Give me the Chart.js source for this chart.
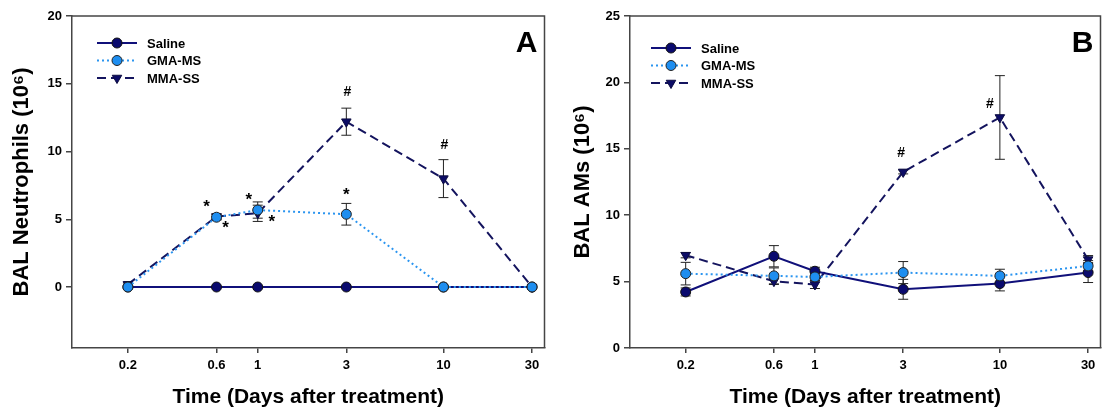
<!DOCTYPE html>
<html>
<head>
<meta charset="utf-8">
<script src="https://cdn.jsdelivr.net/npm/chart.js@4.4.1/dist/chart.umd.min.js"></script>
<style>
  html, body { margin: 0; padding: 0; background: #fff; overflow: hidden; }
  .panel { position: absolute; top: 0; height: 410px; }
  #boxA { left: 0; width: 551px; }
  #boxB { left: 551px; width: 556px; }
</style>
</head>
<body>
<div class="panel" id="boxA"><canvas id="chartA"></canvas></div>
<div class="panel" id="boxB"><canvas id="chartB"></canvas></div>
<script>
let days = [0.2, 0.6, 1, 3, 10, 30]; // time points (log axis)
let tickLabels = ['0.2', '0.6', '1', '3', '10', '30'];
let seriesNames = ['Saline', 'GMA-MS', 'MMA-SS'];

// panel A - BAL neutrophils (10^6)
let neutSaline = [0, 0, 0, 0, 0, 0];
let neutSalineErr = [0, 0, 0, 0, 0, 0];
let neutGMA = [0, 5.15, 5.68, 5.37, 0, 0];
let neutGMAErr = [0, 0.2, 0.6, 0.8, 0, 0];
let neutMMA = [0.2, 5.2, 5.44, 12.2, 8.0, 0];
let neutMMAErr = [0.1, 0.2, 0.6, 1.0, 1.4, 0];
let neutYTicks = [0, 5, 10, 15, 20];

// panel B - BAL AMs (10^6)
let amSaline = [4.22, 6.91, 5.78, 4.42, 4.85, 5.68];
let amSalineErr = [0.3, 0.8, 0.3, 0.75, 0.55, 0.75];
let amGMA = [5.6, 5.43, 5.35, 5.68, 5.43, 6.18];
let amGMAErr = [0.85, 0.6, 0.3, 0.83, 0.5, 0.4];
let amMMA = [6.99, 5.03, 4.78, 13.26, 17.36, 6.66];
let amMMAErr = [0.2, 0.25, 0.3, 0.15, 3.15, 0.3];
let amYTicks = [0, 5, 10, 15, 20, 25];

// significance marks: day, value they sit on, symbol, pixel offset
let neutMarks = [
  { x: 0.6, y: 5.2, text: '*', dx: -10, dy: -9 },
  { x: 0.6, y: 5.2, text: '*', dx: 9, dy: 12 },
  { x: 1, y: 5.68, text: '*', dx: -9, dy: -10 },
  { x: 1, y: 5.44, text: '*', dx: 14, dy: 9 },
  { x: 3, y: 5.37, text: '*', dx: 0, dy: -19 },
  { x: 3, y: 12.2, text: '#', dx: 1, dy: -30 },
  { x: 10, y: 8.0, text: '#', dx: 1, dy: -33 }
];
let amMarks = [
  { x: 3, y: 13.26, text: '#', dx: -2, dy: -19 },
  { x: 10, y: 17.36, text: '#', dx: -10, dy: -13 }
];

let FONT = '"Liberation Sans", Arial, sans-serif';
let AXIS = '#454545';

function pts(values) {
  return days.map((d, i) => ({ x: d, y: values[i] }));
}

function makeDatasets(sal, salErr, gma, gmaErr, mma, mmaErr) {
  return [
    {
      label: seriesNames[0], data: pts(sal), errors: salErr, order: 1,
      borderColor: '#10107a', borderWidth: 2,
      pointStyle: 'circle', pointRadius: 5, pointBackgroundColor: '#0a0a6e',
      pointBorderColor: '#111', pointBorderWidth: 1
    },
    {
      label: seriesNames[1], data: pts(gma), errors: gmaErr, order: 0,
      borderColor: '#2b95f0', borderWidth: 2, borderDash: [2, 3],
      pointStyle: 'circle', pointRadius: 5, pointBackgroundColor: '#1e8ef0',
      pointBorderColor: '#222', pointBorderWidth: 1
    },
    {
      label: seriesNames[2], data: pts(mma), errors: mmaErr, order: 2,
      borderColor: '#14145e', borderWidth: 2, borderDash: [9, 5],
      pointStyle: 'triangle', pointRotation: 180, pointRadius: 5.5,
      pointBackgroundColor: '#0c0c66', pointBorderColor: '#0c0c40', pointBorderWidth: 1
    }
  ];
}

let errorBars = {
  id: 'errorBars',
  beforeDatasetsDraw(chart) {
    let ctx = chart.ctx;
    let xs = chart.scales.x, ys = chart.scales.y;
    ctx.save();
    ctx.strokeStyle = '#222';
    ctx.lineWidth = 1;
    chart.data.datasets.forEach(ds => {
      ds.data.forEach((p, j) => {
        let e = ds.errors[j];
        if (!e) return;
        let x = xs.getPixelForValue(p.x);
        let y1 = ys.getPixelForValue(p.y + e);
        let y2 = ys.getPixelForValue(p.y - e);
        ctx.beginPath();
        ctx.moveTo(x, y1); ctx.lineTo(x, y2);
        ctx.moveTo(x - 5, y1); ctx.lineTo(x + 5, y1);
        ctx.moveTo(x - 5, y2); ctx.lineTo(x + 5, y2);
        ctx.stroke();
      });
    });
    ctx.restore();
  }
};

function extras(letter, marks, legX, legY) {
  return {
    id: 'extras',
    afterDatasetsDraw(chart) {
      let ctx = chart.ctx;
      let xs = chart.scales.x, ys = chart.scales.y;
      let a = chart.chartArea;
      ctx.save();
      // frame top and right
      ctx.strokeStyle = AXIS;
      ctx.lineWidth = 1.5;
      ctx.beginPath();
      ctx.moveTo(a.left, a.top); ctx.lineTo(a.right, a.top); ctx.lineTo(a.right, a.bottom);
      ctx.stroke();
      // significance marks
      ctx.fillStyle = '#000';
      ctx.textAlign = 'center';
      ctx.textBaseline = 'middle';
      marks.forEach(m => {
        ctx.font = m.text === '*' ? 'bold 17px ' + FONT : 'bold 14px ' + FONT;
        ctx.fillText(m.text, xs.getPixelForValue(m.x) + m.dx, ys.getPixelForValue(m.y) + m.dy);
      });
      // panel letter
      ctx.font = 'bold 30px ' + FONT;
      ctx.textAlign = 'right';
      ctx.fillText(letter, a.right - 7, a.top + 28);
      // legend: line + marker + name
      ctx.textAlign = 'left';
      ctx.font = 'bold 13px ' + FONT;
      chart.data.datasets.forEach((ds, i) => {
        let y = a.top + legY + i * 17.5;
        let x0 = a.left + legX;
        ctx.strokeStyle = ds.borderColor;
        ctx.lineWidth = ds.borderWidth;
        ctx.setLineDash(ds.borderDash || []);
        ctx.beginPath();
        ctx.moveTo(x0, y); ctx.lineTo(x0 + 40, y);
        ctx.stroke();
        ctx.setLineDash([]);
        ctx.fillStyle = ds.pointBackgroundColor;
        ctx.strokeStyle = ds.pointBorderColor;
        ctx.lineWidth = ds.pointBorderWidth;
        Chart.helpers.drawPoint(ctx, {
          pointStyle: ds.pointStyle, rotation: ds.pointRotation || 0,
          radius: ds.pointRadius, borderWidth: ds.pointBorderWidth
        }, x0 + 20, y);
        ctx.fillStyle = '#000';
        ctx.fillText(ds.label, x0 + 50, y + 1);
      });
      ctx.restore();
    }
  };
}

function makeChart(id, datasets, yMin, yMax, yTicks, yTitle, yWidth, yTitlePad, letter, marks, legX, legY) {
  return new Chart(document.getElementById(id), {
    type: 'line',
    data: { datasets: datasets },
    options: {
      responsive: true,
      maintainAspectRatio: false,
      animation: false,
      devicePixelRatio: 1,
      layout: { padding: { top: 16, right: 3, left: 0, bottom: 0 } },
      plugins: { legend: { display: false }, tooltip: { enabled: false } },
      scales: {
        x: {
          type: 'logarithmic', min: 0.1, max: 35,
          afterBuildTicks: s => { s.ticks = days.map(v => ({ value: v })); },
          afterFit: s => { s.height = 62; s.paddingLeft = 0; s.paddingRight = 0; },
          ticks: {
            callback: (v, i) => tickLabels[i],
            font: { family: FONT, size: 13, weight: 'bold' }, color: '#000',
            padding: 5, maxRotation: 0, autoSkip: false
          },
          grid: { drawOnChartArea: false, drawTicks: true, tickLength: 5, color: AXIS, lineWidth: 1.5 },
          border: { color: AXIS, width: 1.5 },
          title: {
            display: true, text: 'Time (Days after treatment)', color: '#000',
            font: { family: FONT, size: 21, weight: 'bold' }, padding: { top: 0, bottom: 0 }
          }
        },
        y: {
          min: yMin, max: yMax,
          afterBuildTicks: s => { s.ticks = yTicks.map(v => ({ value: v })); },
          afterFit: s => { s.width = yWidth; },
          ticks: {
            font: { family: FONT, size: 13, weight: 'bold' }, color: '#000', padding: 4
          },
          grid: { drawOnChartArea: false, drawTicks: true, tickLength: 6, color: AXIS, lineWidth: 1.5 },
          border: { color: AXIS, width: 1.5 },
          title: {
            display: true, text: yTitle, color: '#000',
            font: { family: FONT, size: 22, weight: 'bold' }, padding: { top: yTitlePad, bottom: 0 }
          }
        }
      }
    },
    plugins: [errorBars, extras(letter, marks, legX, legY)]
  });
}

let chartA = makeChart('chartA',
  makeDatasets(neutSaline, neutSalineErr, neutGMA, neutGMAErr, neutMMA, neutMMAErr),
  -4.5, 20, neutYTicks, 'BAL Neutrophils (10\u2076)', 72, 9, 'A', neutMarks, 25, 27);

let chartB = makeChart('chartB',
  makeDatasets(amSaline, amSalineErr, amGMA, amGMAErr, amMMA, amMMAErr),
  0, 25, amYTicks, 'BAL AMs (10\u2076)', 79, 19, 'B', amMarks, 21, 32);
</script>
</body>
</html>
